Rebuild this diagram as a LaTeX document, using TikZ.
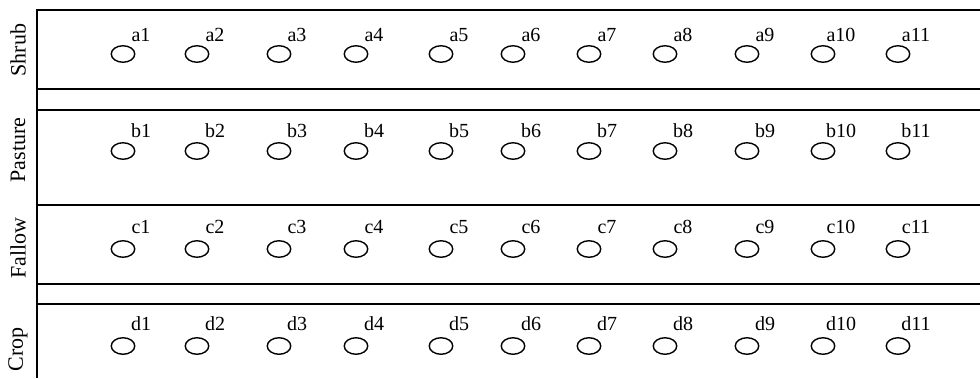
\documentclass[tikz,border=0pt]{standalone}
\usepackage{fontspec}
\setmainfont{Liberation Serif}
\usetikzlibrary{shapes.geometric}

\begin{document}
\begin{tikzpicture}[x=1pt, y=-1pt,
  hole/.style={draw, ellipse, line width=1.4pt, minimum width=23.5pt, minimum height=16.5pt, inner sep=0pt},
  tag/.style={anchor=base, inner sep=0pt, font=\fontsize{20}{20}\selectfont},
  band/.style={rotate=90, inner sep=0pt, font=\fontsize{22}{22}\selectfont},
  rule/.style={line width=1.7pt}
]
\useasboundingbox (0,0) rectangle (980,378);

% frame and strip borders
\draw[rule] (37,378) -- (37,10) -- (980,10);
\foreach \y in {89,110,205,284,304}
  \draw[rule] (37,\y) -- (980,\y);

% land-use names
\node[band] (shrub) at (18,50) {Shrub};
\node[band] (pasture) at (18,150) {Pasture};
\node[band] (fallow) at (18,248) {Fallow};
\node[band] (crop) at (18,349) {Crop};

% sampling points
\foreach \r/\y/\t in {a/54/41,b/151/137,c/249/233,d/346/330}{
  \foreach \x [count=\i] in {123,197,279,356,441,513,589,665,747,823,898}{
    \node[hole] (\r\i) at (\x,\y) {};
    \node[tag] (\r\i-t) at (\x+18,\t) {\r\i};
  }
}
\end{tikzpicture}
\end{document}
